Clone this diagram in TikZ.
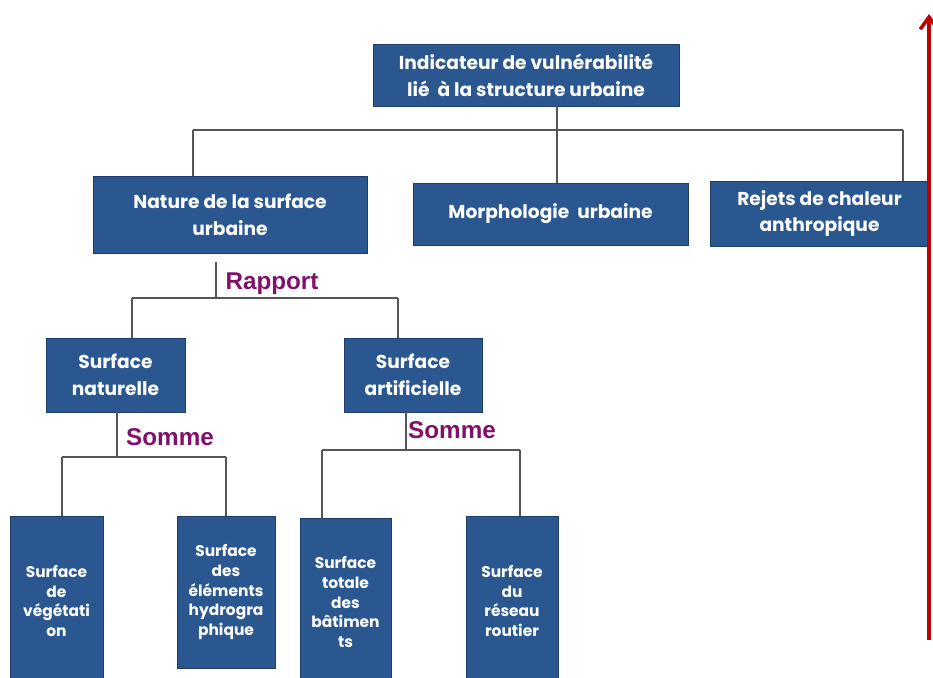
\documentclass[tikz,border=0pt]{standalone}
\usepackage{fontspec}
\setmainfont{Liberation Sans}
\newfontfamily\boxfont{Poppins}
\usetikzlibrary{arrows.meta}
\definecolor{boxblue}{RGB}{43,87,145}
\definecolor{boxedge}{RGB}{30,62,105}
\definecolor{linkgray}{RGB}{85,85,85}
\definecolor{sumpurple}{RGB}{128,16,106}
\definecolor{arrowred}{RGB}{192,0,0}
\tikzset{
  bloc/.style={draw=boxedge, fill=boxblue, text=white, inner sep=0pt, align=center,
    font=\boxfont\bfseries\fontsize{10.6}{15.3}\selectfont},
  petitbloc/.style={bloc, font=\boxfont\bfseries\fontsize{8.8}{11.3}\selectfont},
  lien/.style={draw=linkgray, line width=0.7pt},
  oper/.style={text=sumpurple, font=\bfseries\fontsize{13.8}{15}\selectfont}
}
\begin{document}
\begin{tikzpicture}[x=0.02cm, y=-0.02cm]
\useasboundingbox (0,0) rectangle (933,677);

% niveau 1
\node[bloc, minimum width=6.12cm, minimum height=1.24cm] (indic) at (526,75)
  {Indicateur de vuln\'erabilit\'e\\li\'e \ \`a la structure urbaine};

% niveau 2
\node[bloc, minimum width=5.48cm, minimum height=1.54cm] (nature) at (230,214.5)
  {Nature de la surface\\urbaine};
\node[bloc, minimum width=5.5cm, minimum height=1.24cm] (morpho) at (550.5,214)
  {Morphologie \ urbaine};
\node[bloc, minimum width=4.38cm, minimum height=1.3cm] (rejets) at (819.5,213.5)
  {Rejets de chaleur\\anthropique};

% niveau 3
\node[bloc, minimum width=2.78cm, minimum height=1.48cm] (snat) at (115.5,375)
  {Surface\\naturelle};
\node[bloc, minimum width=2.76cm, minimum height=1.48cm] (sart) at (413,375)
  {Surface\\artificielle};

% niveau 4
\node[petitbloc, minimum width=1.86cm, minimum height=3.4cm] (veget) at (56.5,601)
  {Surface\\de\\v\'eg\'etati\\on};
\node[petitbloc, minimum width=1.96cm, minimum height=3.04cm] (hydro) at (226,592)
  {Surface\\des\\\'el\'ements\\hydrogra\\phique};
\node[petitbloc, minimum width=1.82cm, minimum height=3.36cm] (batim) at (345.5,602)
  {Surface\\totale\\des\\b\^atimen\\ts};
\node[petitbloc, minimum width=1.84cm, minimum height=3.4cm] (reseau) at (512,601)
  {Surface\\du\\r\'eseau\\routier};

% operateurs
\node[oper] (rapport) at (272,284) {Rapport};
\node[oper] (somme1) at (170,437) {Somme};
\node[oper] (somme2) at (452,430) {Somme};

% branches
\coordinate (t0) at (557,130);
\coordinate (tl) at (193,130);
\coordinate (tr) at (903,130);
\draw[lien] (indic.south -| t0) -- (t0);
\draw[lien] (tl) -- (tr);
\draw[lien] (tl) -- (tl |- nature.north);
\draw[lien] (t0) -- (t0 |- morpho.north);
\draw[lien] (tr) -- (tr |- rejets.north);

\coordinate (n1) at (216,262);
\coordinate (n0) at (216,298);
\coordinate (nl) at (132,298);
\coordinate (nr) at (398,298);
\draw[lien] (n1) -- (n0);
\draw[lien] (nl) -- (nr);
\draw[lien] (nl) -- (nl |- snat.north);
\draw[lien] (nr) -- (nr |- sart.north);

\coordinate (s0) at (117,457);
\coordinate (sl) at (62,457);
\coordinate (sr) at (226,457);
\draw[lien] (snat.south -| s0) -- (s0);
\draw[lien] (sl) -- (sr);
\draw[lien] (sl) -- (sl |- veget.north);
\draw[lien] (sr) -- (sr |- hydro.north);

\coordinate (a0) at (406,450);
\coordinate (al) at (322,450);
\coordinate (ar) at (520,450);
\draw[lien] (sart.south -| a0) -- (a0);
\draw[lien] (al) -- (ar);
\draw[lien] (al) -- (al |- batim.north);
\draw[lien] (ar) -- (ar |- reseau.north);

% fleche
\coordinate (fbas) at (929,640);
\coordinate (fhaut) at (929,14);
\draw[arrowred, line width=2pt, -{Straight Barb[length=7pt, width=10pt]}] (fbas) -- (fhaut);

\end{tikzpicture}
\end{document}
